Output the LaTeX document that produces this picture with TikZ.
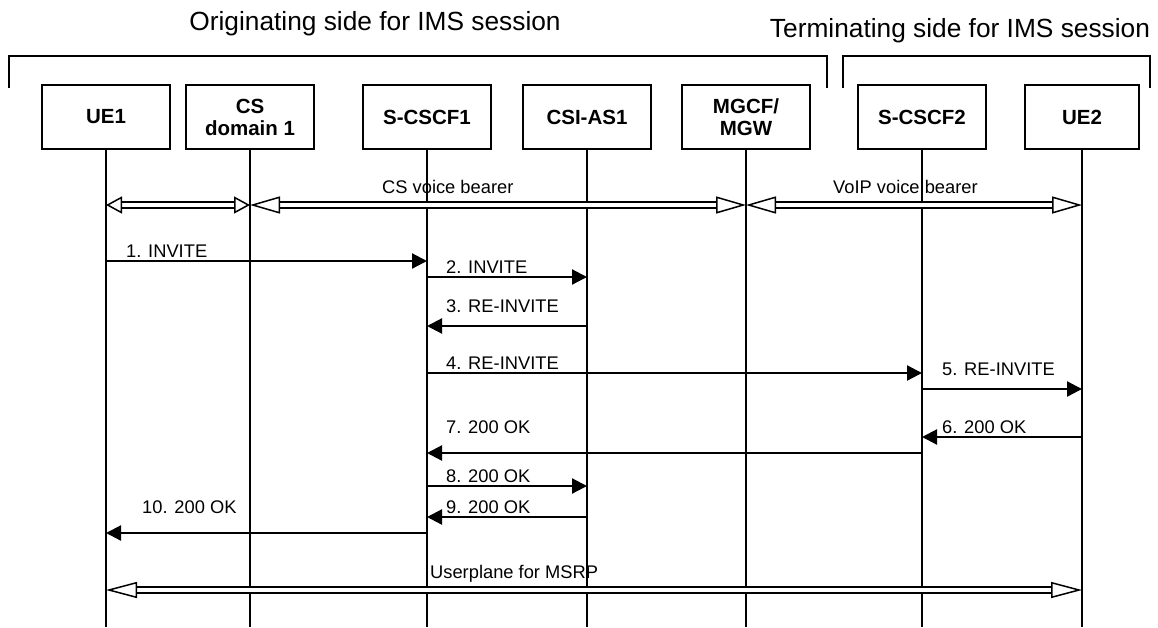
\documentclass[tikz,border=0pt]{standalone}
\usepackage{fontspec}
\setmainfont{Liberation Sans}
\usetikzlibrary{arrows.meta}
\begin{document}
\begin{tikzpicture}[x=1pt,y=-1pt,
  ent/.style={draw, line width=1.6pt, minimum width=128pt, minimum height=64pt,
    font=\fontsize{20.5}{22}\selectfont\bfseries, align=center, inner sep=0pt},
  life/.style={line width=1.6pt},
  msg/.style={line width=2.2pt, -{Triangle[length=15pt,width=15pt]}},
  lbl/.style={anchor=base west, font=\fontsize{18.3}{20}\selectfont, inner sep=0pt},
  ttl/.style={anchor=base, font=\fontsize{26.3}{30}\selectfont, inner sep=0pt},
  brk/.style={line width=1.6pt},
  bearer/.style={double=white, double distance=4.4pt, line width=1.6pt},
  shorthead/.style={bearer, {Triangle[open,length=16pt,width=17pt,line width=1.5pt]}-{Triangle[open,length=16pt,width=17pt,line width=1.5pt]}},
  longhead/.style={bearer, {Triangle[open,length=30pt,width=17pt,line width=1.5pt]}-{Triangle[open,length=30pt,width=17pt,line width=1.5pt]}}
]
\useasboundingbox (0,0) rectangle (1158,627);
\fill[white] (0,0) rectangle (1158,627);

% titles and brackets
\node[ttl] (torig) at (375,30) {Originating side for IMS session};
\node[ttl] (tterm) at (960,37) {Terminating side for IMS session};
\draw[brk] (9,88) -- (9,56) -- (827,56) -- (827,88);
\draw[brk] (843,88) -- (843,56) -- (1150,56) -- (1150,88);

% entities
\node[ent] (ue1)  at (106,117) {UE1};
\node[ent] (csd)  at (250,117) {CS\\domain 1};
\node[ent] (scs1) at (427,117) {S-CSCF1};
\node[ent] (csi)  at (587,117) {CSI-AS1};
\node[ent] (mgcf) at (746,117) {MGCF/\\MGW};
\node[ent] (scs2) at (922,117) {S-CSCF2};
\node[ent, minimum width=114pt] (ue2) at (1082,117) {UE2};

% lifeline ends
\foreach \n in {ue1,csd,scs1,csi,mgcf,scs2,ue2}{
  \coordinate (\n-end) at (\n |- 0,627);
  \draw[life] (\n.south) -- (\n-end);
}

% bearers
\draw[shorthead] (ue1 |- 0,205) -- (csd |- 0,205);
\draw[longhead] (csd |- 0,205) -- (mgcf |- 0,205);
\draw[longhead] (mgcf |- 0,205) -- (ue2 |- 0,205);
\node[lbl] (lcs) at (382,193) {CS voice bearer};
\node[lbl] (lvoip) at (833,193) {VoIP voice bearer};

% messages
\draw[msg] (ue1 |- 0,261) -- (scs1 |- 0,261);
\node[lbl] (m1) at (126,257) {1. INVITE};
\draw[msg] (scs1 |- 0,277) -- (csi |- 0,277);
\node[lbl] (m2) at (446,273) {2. INVITE};
\draw[msg] (csi |- 0,326) -- (scs1 |- 0,326);
\node[lbl] (m3) at (446,312) {3. RE-INVITE};
\draw[msg] (scs1 |- 0,373) -- (scs2 |- 0,373);
\node[lbl] (m4) at (446,369) {4. RE-INVITE};
\draw[msg] (scs2 |- 0,389) -- (ue2 |- 0,389);
\node[lbl] (m5) at (942,375) {5. RE-INVITE};
\draw[msg] (ue2 |- 0,437) -- (scs2 |- 0,437);
\node[lbl] (m6) at (942,433) {6. 200 OK};
\draw[msg] (scs2 |- 0,453) -- (scs1 |- 0,453);
\node[lbl] (m7) at (446,433) {7. 200 OK};
\draw[msg] (scs1 |- 0,486) -- (csi |- 0,486);
\node[lbl] (m8) at (446,482) {8. 200 OK};
\draw[msg] (csi |- 0,517) -- (scs1 |- 0,517);
\node[lbl] (m9) at (446,513) {9. 200 OK};
\draw[msg] (scs1 |- 0,533) -- (ue1 |- 0,533);
\node[lbl] (m10) at (142,513) {10. 200 OK};

% userplane
\draw[bearer, {Triangle[open,length=31pt,width=16pt,line width=1.5pt]}-{Triangle[open,length=31pt,width=16pt,line width=1.5pt]}] (ue1 |- 0,590) -- (ue2 |- 0,590);
\node[lbl] (lup) at (430,578) {Userplane for MSRP};
\end{tikzpicture}
\end{document}
